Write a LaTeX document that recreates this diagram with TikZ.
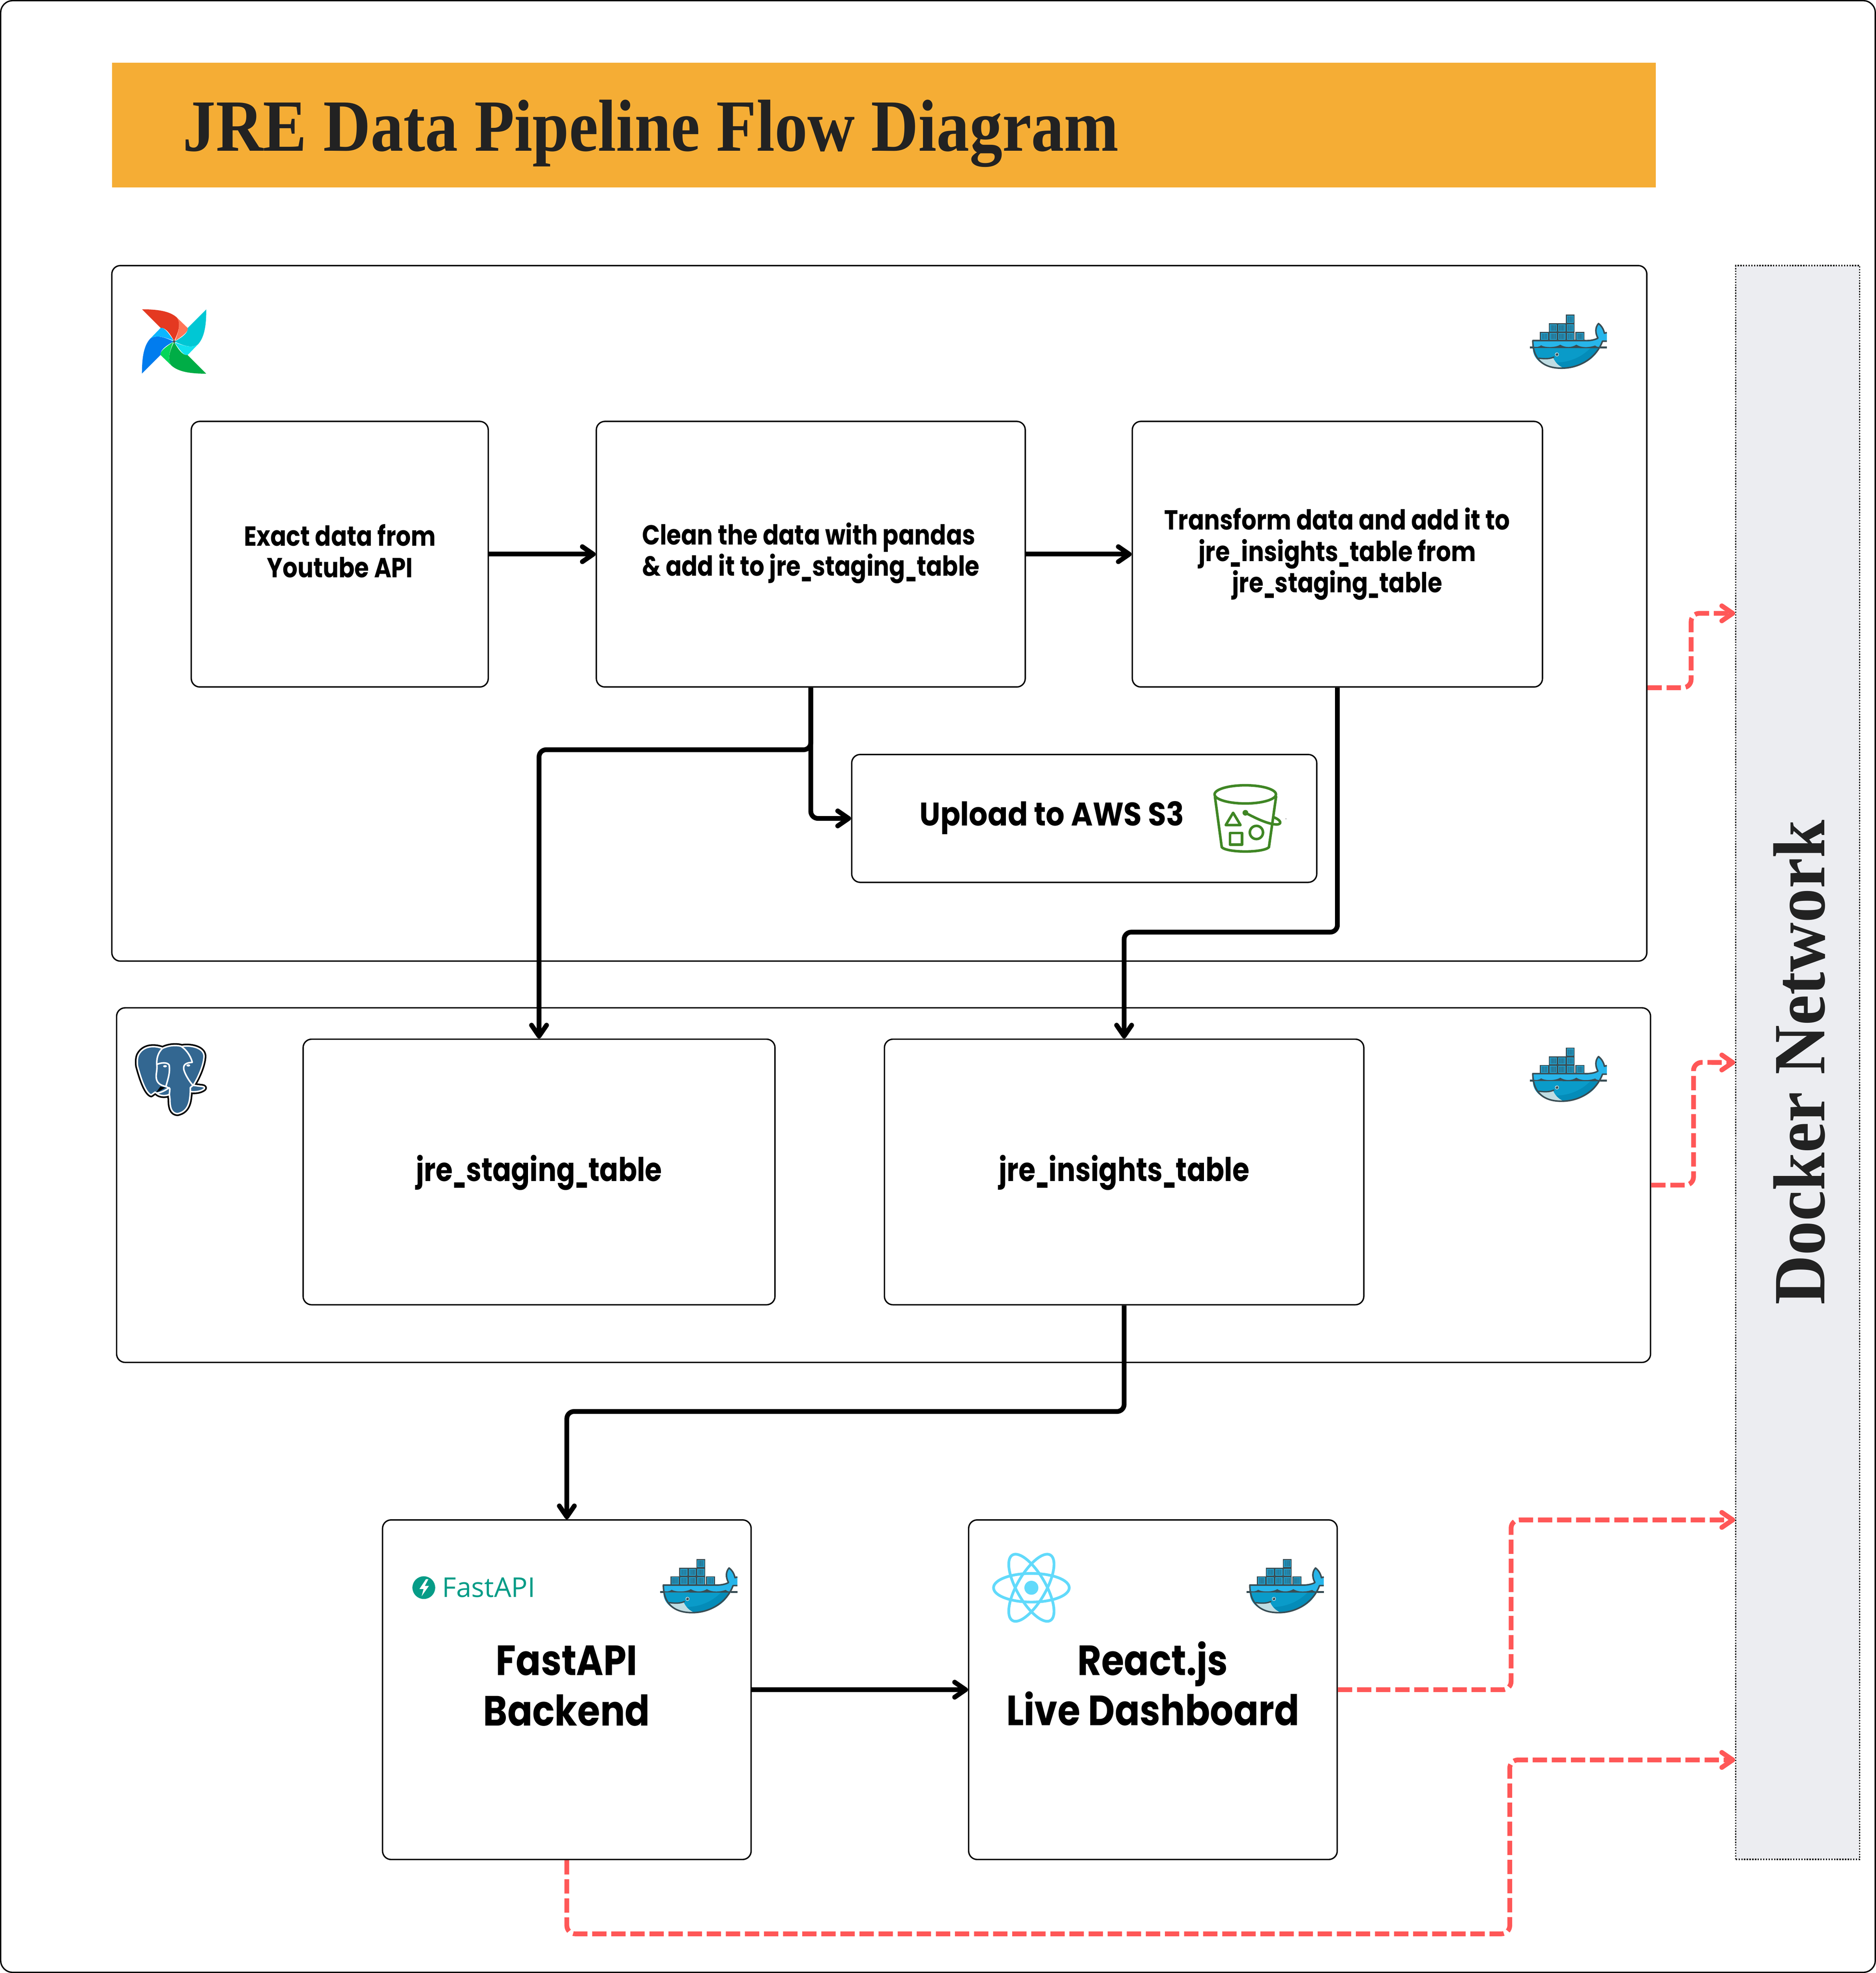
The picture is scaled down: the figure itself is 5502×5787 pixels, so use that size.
\documentclass[tikz,border=0pt]{standalone}
\usepackage{fontspec}
\usepackage{graphicx}
\usetikzlibrary{arrows.meta,calc}
\setmainfont{Liberation Serif}
\newfontfamily\titlefont{Liberation Serif}[FakeStretch=0.89]
\newfontfamily\netfont{Liberation Serif}[FakeStretch=0.93]
\newfontfamily\labelfont{Poppins}[FakeStretch=0.85]
\newfontfamily\midfont{Poppins}[FakeStretch=0.9]
\newfontfamily\tablefont{Poppins}[FakeStretch=0.84]
\newfontfamily\bigfont{Poppins}[FakeStretch=0.87]
\newfontfamily\logofont{Open Sans}
\definecolor{titlebg}{HTML}{F5AD35}
\definecolor{titleink}{HTML}{222222}
\definecolor{netbg}{HTML}{ECEDF1}
\definecolor{redflow}{HTML}{FF5757}
\definecolor{whaleink}{HTML}{394D54}
\definecolor{whaletop}{HTML}{27B5EA}
\definecolor{whalelow}{HTML}{0A9BC9}
\definecolor{whaledark}{HTML}{048CB9}
\definecolor{whalejaw}{HTML}{C0DDE3}
\definecolor{boxfill}{HTML}{1A95C2}
\definecolor{boxedge}{HTML}{2BB4E2}
\definecolor{boxstripe}{HTML}{2F6C84}
\definecolor{pgblue}{HTML}{336791}
\definecolor{s3green}{HTML}{3F8624}
\definecolor{fastgreen}{HTML}{059C87}
\definecolor{reactblue}{HTML}{61DAFB}
\definecolor{airR}{HTML}{E43921}
\definecolor{airr}{HTML}{FF7557}
\definecolor{airC}{HTML}{00C7D4}
\definecolor{airc}{HTML}{11E1EE}
\definecolor{airG}{HTML}{00AD46}
\definecolor{airg}{HTML}{04D659}
\definecolor{airB}{HTML}{017CEE}
\definecolor{airb}{HTML}{0CB6FF}
\tikzset{
  tbox/.style={draw=black,line width=.4pt,rounded corners=2.5pt,inner sep=0pt,align=center,text=black},
  flow/.style={draw=black,line width=1.4pt,rounded corners=2.1pt,line cap=butt,
    -{Straight Barb[length=3.2pt,width=4.4pt,round]}},
  redline/.style={draw=redflow,line width=1.4pt,rounded corners=2.4pt,dash pattern=on 4.2pt off 1.4pt,
    -{Straight Barb[length=3.2pt,width=4.4pt,round]}},
}
\newcommand{\boxat}[6]{\node[tbox,minimum width={(#4-#2)*0.1pt},minimum height={(#5-#3)*0.1pt},#6] (#1) at ({(#2+#4)/2},{(#3+#5)/2}) {};}
\newcommand{\us}{\scalebox{.62}[1]{\_}}
\newcommand{\smalltext}{\labelfont\bfseries\fontsize{8.1}{9.2}\selectfont}
\newcommand{\midtext}{\midfont\bfseries\fontsize{9.6}{11}\selectfont}
\newcommand{\tabletext}{\tablefont\bfseries\fontsize{9.6}{11}\selectfont}
\newcommand{\bigtext}{\bigfont\bfseries\fontsize{12.4}{14.8}\selectfont}
\newcommand{\crate}[2]{%
  \fill[whaleink] (#1,#2) rectangle ++(78,78);
  \filldraw[fill=boxfill,draw=boxedge,line width=.12pt] (#1+11,#2+11) rectangle ++(58,58);
  \foreach \s in {20,28,36,44,52,60}{\draw[boxstripe,line width=.13pt] (#1+\s,#2+16) -- ++(0,48);}
}
% docker whale, drawn in the coordinates of its 3x crop
\newcommand{\whale}[2]{%
\begin{scope}[shift={(#1,#2)},scale=1/3]
  \crate{727}{218}
  \crate{577}{295}\crate{652}{295}\crate{727}{295}
  \crate{500}{370}\crate{577}{370}\crate{652}{370}\crate{727}{370}\crate{812}{370}
  \fill[whaletop] (437,447) -- (890,447) .. controls (940,450) and (985,440) .. (1010,425)
     .. controls (985,380) and (985,330) .. (1015,297) .. controls (1045,320) and (1060,350) .. (1067,382)
     -- (1088,376) -- (1088,450) -- (1050,452) -- (1025,512) -- (437,512) -- cycle;
  \fill[whalelow] (437,512) -- (1025,512) .. controls (960,640) and (820,690) .. (690,690)
     .. controls (540,690) and (437,620) .. (437,512) -- cycle;
  \fill[whaledark] (945,512) -- (1025,512) .. controls (960,640) and (820,690) .. (690,690)
     -- (640,640) .. controls (760,640) and (870,590) .. (945,512) -- cycle;
  \fill[whalejaw] (490,607) .. controls (550,612) and (590,607) .. (615,597)
     .. controls (635,640) and (660,665) .. (695,683) .. controls (610,695) and (540,665) .. (490,607) -- cycle;
  \fill[whaleink] (437,512) -- (437,500) .. controls (470,505) and (490,505) .. (510,488)
     .. controls (540,510) and (640,510) .. (678,483) .. controls (720,510) and (780,510) .. (820,483)
     .. controls (860,510) and (930,510) .. (985,490) .. controls (1000,505) and (1020,505) .. (1035,500)
     -- (1030,514) -- cycle;
  \draw[whaleink,line width=.45pt,line join=round]
     (1088,452) -- (1050,452) .. controls (1000,590) and (860,690) .. (690,690)
     .. controls (540,690) and (437,620) .. (437,447) -- (890,447)
     .. controls (940,450) and (985,440) .. (1010,425)
     .. controls (985,380) and (985,330) .. (1015,297) .. controls (1045,320) and (1060,350) .. (1067,382) -- (1088,376);
  \draw[whaleink,line width=.6pt] (410,508) -- (437,508) (1030,508) -- (1088,508);
  \draw[whaleink,line width=.4pt,line cap=round] (490,602) .. controls (550,610) and (590,607) .. (622,592);
  \fill[whalejaw] (649,569) circle (18);
  \fill[whaleink] (649,569) circle (12);
  \fill[whalejaw] (643,563) circle (3.5);
\end{scope}}
\newcommand{\blade}[3]{%
\begin{scope}[rotate around={#1:(632,605)}]
  \fill[#3] (655,393) -- (750,485) .. controls (760,505) and (740,535) .. (640,600)
     .. controls (670,520) and (695,450) .. (655,393) -- cycle;
  \fill[#2] (350,322) .. controls (480,322) and (590,335) .. (655,393)
     .. controls (695,450) and (670,520) .. (632,602)
     .. controls (600,540) and (560,485) .. (520,485) -- (515,487) -- cycle;
\end{scope}}
\begin{document}
\begin{tikzpicture}[x=0.1pt,y=-0.1pt]
\useasboundingbox (0,0) rectangle (5502,5787);
\fill[white] (0,0) rectangle (5502,5787);
% frame and title
\boxat{frame}{2}{2}{5500}{5785}{rounded corners=3.5pt}
\node[fill=titlebg,minimum width=452.8pt,minimum height=36.6pt,inner sep=0pt] (titlebar) at (2592,367) {};
\node[anchor=base west,inner sep=0pt,text=titleink,font=\titlefont\bfseries\fontsize{21.6}{24}\selectfont] (titletext) at (535,443) {JRE Data Pipeline Flow Diagram};
% containers
\boxat{airflow}{328}{779}{4830}{2819}{}
\boxat{postgres}{342}{2956}{4841}{3996}{}
\node[fill=netbg,draw=black,line width=.4pt,dash pattern=on .4pt off .4pt,minimum width=36.3pt,minimum height=467.5pt,inner sep=0pt] (docker) at (5272.5,3116.5) {};
\node[rotate=90,inner sep=0pt,text=titleink,font=\netfont\bfseries\fontsize{21.6}{24}\selectfont] (dockertext) at (5277,3116) {Docker Network};
% tasks
\boxat{exact}{561}{1236}{1432}{2015}{}
\node[font=\smalltext,align=center,inner sep=0pt] (exacttext) at (997,1616) {Exact data from\\Youtube API};
\boxat{clean}{1749}{1236}{3007}{2015}{}
\node[font=\smalltext,align=left,inner sep=0pt] (cleantext) at (2378,1622) {Clean the data with pandas\\\&\ add it to jre\us staging\us table};
\boxat{transform}{3321}{1236}{4524}{2015}{}
\node[font=\smalltext,align=center,inner sep=0pt] (transformtext) at (3922,1625) {Transform data and add it to\\jre\us insights\us table from\\jre\us staging\us table};
\boxat{upload}{2498}{2213}{3862}{2588}{}
\node[font=\midtext,inner sep=0pt] (uploadtext) at (3085,2399) {Upload to AWS S3};
\boxat{staging}{889}{3048}{2273}{3827}{}
\node[font=\tabletext,inner sep=0pt] (stagingtext) at (1581,3439) {jre\us staging\us table};
\boxat{insights}{2594}{3048}{4000}{3827}{}
\node[font=\tabletext,inner sep=0pt] (insightstext) at (3297,3439) {jre\us insights\us table};
\boxat{fastapi}{1122}{4458}{2203}{5454}{}
\node[font=\bigtext,align=center,inner sep=0pt] (fastapitext) at (1662,4945) {FastAPI\\Backend};
\boxat{react}{2841}{4458}{3922}{5454}{}
\node[font=\bigtext,align=center,inner sep=0pt] (reacttext) at (3381,4938) {React.js\\Live Dashboard};
% black connectors
\coordinate (bendstaging) at (0,2199);
\coordinate (bendinsights) at (0,2734);
\coordinate (bendfast) at (0,4140);
\draw[flow] (exact.east) -- (clean.west);
\draw[flow] (clean.east) -- (transform.west);
\draw[flow] (clean.south) |- (staging.north |- bendstaging) -- (staging.north);
\draw[flow] (clean.south) |- (upload.west);
\draw[flow] (transform.south) |- (insights.north |- bendinsights) -- (insights.north);
\draw[flow] (insights.south) |- (fastapi.north |- bendfast) -- (fastapi.north);
\draw[flow] (fastapi.east) -- (react.west);
% red connectors
\coordinate (ra) at (4960,1799);
\coordinate (rb) at (4967,3116);
\coordinate (rc) at (4432,4458);
\coordinate (rd) at (4428,5162);
\coordinate (rdlow) at (0,5672);
\draw[redline] (airflow.east |- clean.south) -| (ra) -- (docker.west |- ra);
\draw[redline] (postgres.east) -| (rb) -- (docker.west);
\draw[redline] (react.east) -| (rc) -- (docker.west |- rc);
\draw[redline] (fastapi.south) |- (rd |- rdlow) -- (rd) -- (docker.west |- rd);
% whales
\whale{4350}{850}
\whale{4350}{3000}
\whale{1800}{4500}
\whale{3520}{4500}
% airflow pinwheel
\begin{scope}[shift={(300,800)},scale=1/3]
  \blade{0}{airR}{airr}
  \blade{-90}{airC}{airc}
  \blade{-180}{airG}{airg}
  \blade{-270}{airB}{airb}
  \fill[black!70] (632,605) circle (11);
\end{scope}
% s3 bucket
\begin{scope}[shift={(3400,2200)},scale=1/3,s3green,line width=.75pt,line join=round,line cap=round]
  \draw (757,390) ellipse (270 and 80);
  \draw (490,410) -- (550,855) .. controls (600,905) and (915,905) .. (965,855) -- (1028,410);
  \draw (650,552) -- (585,660) -- (715,660) -- cycle;
  \draw (622,730) rectangle (728,832);
  \draw (855,725) circle (58);
  \fill (758,552) circle (25);
  \draw (758,552) .. controls (850,600) and (950,650) .. (1030,655) .. controls (1080,655) and (1080,620) .. (1005,590);
  \fill[black!60] (1115,605) circle (4);
\end{scope}
% postgres elephant
\begin{scope}[shift={(340,2990)},scale=1/3,line join=round,line cap=round]
  \def\pghead{(200,310) .. controls (240,235) and (330,225) .. (410,255) .. controls (470,225) and (540,225) .. (580,238)
     .. controls (650,225) and (770,245) .. (775,320) .. controls (775,400) and (720,520) .. (680,580)
     -- (760,590) .. controls (790,595) and (780,610) .. (770,615) .. controls (740,635) and (700,640) .. (655,635)
     .. controls (650,700) and (650,810) .. (540,830) .. controls (490,825) and (475,780) .. (475,700) -- (470,660)
     .. controls (430,680) and (380,670) .. (360,650) -- (345,640) -- (310,665)
     .. controls (270,650) and (230,560) .. (190,410) .. controls (185,360) and (190,330) .. (200,310) -- cycle}
  \draw[black,line width=1.4pt] \pghead;
  \filldraw[fill=pgblue,draw=white,line width=.45pt] \pghead;
  \fill[black] (392,590) -- (435,600) -- (380,632) -- (355,640) -- cycle;
  \draw[white,line width=.45pt]
     (410,255) .. controls (370,290) and (355,350) .. (360,400) .. controls (365,450) and (350,480) .. (355,515)
     .. controls (360,555) and (385,580) .. (440,590) -- (475,610) -- (470,660)
     (362,395) .. controls (400,380) and (450,375) .. (468,400) .. controls (480,470) and (455,530) .. (440,590)
     (360,650) .. controls (410,640) and (440,620) .. (470,600)
     (575,238) .. controls (625,270) and (660,330) .. (672,378)
     (672,378) .. controls (620,380) and (590,395) .. (597,440) .. controls (610,490) and (650,550) .. (678,580)
     -- (655,600) -- (655,635);
  \fill[white] (432,412) ellipse (17 and 10);
  \fill[white] (637,405) ellipse (17 and 10);
\end{scope}
% fastapi logo
\begin{scope}[shift={(1150,4500)},xscale=0.71,yscale=1/3]
  \fill[fastgreen] (131,470) ellipse (47 and 100);
  \fill[white] (140,395) -- (113,482) -- (130,482) -- (122,545) -- (152,455) -- (135,455) -- (150,395) -- cycle;
\end{scope}
\node[anchor=base west,inner sep=0pt,text=fastgreen,font=\logofont\fontsize{8}{9}\selectfont] (fastlogo) at (1295,4685) {FastAPI};
% react logo
\begin{scope}[shift={(3025,4657)},reactblue,line width=.8pt]
  \draw (0,0) ellipse (111 and 42);
  \draw[rotate=60] (0,0) ellipse (111 and 42);
  \draw[rotate=-60] (0,0) ellipse (111 and 42);
  \fill (0,0) circle (20.5);
\end{scope}
\end{tikzpicture}
\end{document}
